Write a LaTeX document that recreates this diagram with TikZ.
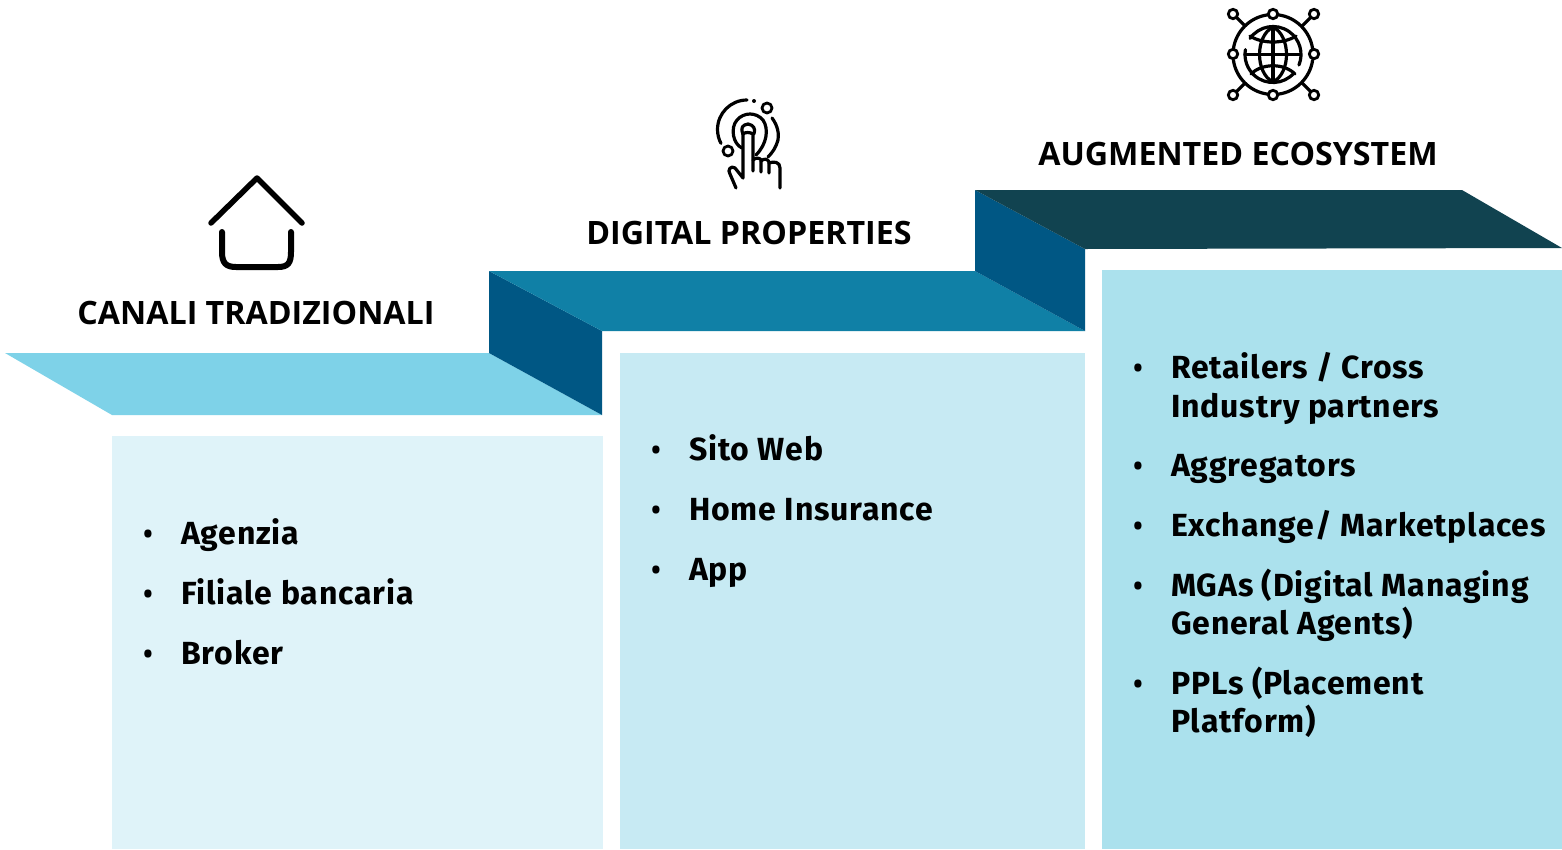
\documentclass[tikz,border=0pt]{standalone}
\usepackage{fontspec}
\setmainfont{Open Sans}
\newfontfamily\listfont[LetterSpace=2.6]{Fira Sans}
\begin{document}
\begin{tikzpicture}[x=1pt,y=-1pt,
  heading/.style={font=\fontsize{32.2}{36}\selectfont\bfseries,text=black,inner sep=0pt,anchor=center},
  item/.style={font=\listfont\fontsize{32}{38}\selectfont\bfseries,text=black,inner sep=0pt,anchor=base west,align=left},
  bul/.style={font=\fontsize{26}{38}\selectfont\bfseries,text=black,inner sep=0pt,anchor=base},
  ico/.style={line width=3.2pt,line cap=round,line join=round,black},
  ico2/.style={line width=2.8pt,line cap=round,line join=round,black}]
\useasboundingbox (0,0) rectangle (1562,849);
\definecolor{pa}{HTML}{DFF3F9}\definecolor{pb}{HTML}{C7EAF3}\definecolor{pc}{HTML}{ABE1ED}
\definecolor{ta}{HTML}{7ED2E8}\definecolor{tb}{HTML}{1080A6}\definecolor{tc}{HTML}{114350}
\definecolor{sd}{HTML}{005784}
\fill[white] (0,0) rectangle (1562,849);
\fill[pa] (112,436) rectangle (603,849);
\fill[pb] (620,353) rectangle (1085,849);
\fill[pc] (1102,270) rectangle (1562,849);
% steps
\fill[ta] (5,353) -- (489,353) -- (602,415) -- (112,415) -- cycle;
\fill[sd] (489,271) -- (602,331) -- (602,415) -- (489,353) -- cycle;
\fill[tb] (489,271) -- (975,271) -- (1085,331) -- (602,331) -- cycle;
\fill[sd] (975,190) -- (1085,249) -- (1085,331) -- (975,271) -- cycle;
\fill[tc] (975,190) -- (1462,190) -- (1562,248) -- (1085,249) -- cycle;
% headings
\node[heading] (h1) at (256,312.5) {CANALI TRADIZIONALI};
\node[heading] (h2) at (749,232.5) {DIGITAL PROPERTIES};
\node[heading] (h3) at (1238,153.5) {AUGMENTED ECOSYSTEM};
% lists 1
\node[bul] (b1) at (148,543) {•}; \node[item] (t1) at (181,544) {Agenzia};
\node[bul] (b2) at (148,603) {•}; \node[item] (t2) at (181,604) {Filiale bancaria};
\node[bul] (b3) at (148,663) {•}; \node[item] (t3) at (181,664) {Broker};
% lists 2
\node[bul] (b4) at (656,459) {•}; \node[item] (t4) at (689,460) {Sito Web};
\node[bul] (b5) at (656,519) {•}; \node[item] (t5) at (689,520) {Home Insurance};
\node[bul] (b6) at (656,579) {•}; \node[item] (t6) at (689,580) {App};
% lists 3
\node[bul] (b7) at (1138,377) {•}; \node[item] (t7) at (1171,378) {Retailers / Cross};
\node[item] (t7b) at (1171,417) {Industry partners};
\node[bul] (b8) at (1138,475) {•}; \node[item] (t8) at (1171,476) {Aggregators};
\node[bul] (b9) at (1138,535) {•}; \node[item] (t9) at (1171,536) {Exchange/ Marketplaces};
\node[bul] (b10) at (1138,595) {•}; \node[item] (t10) at (1171,596) {MGAs (Digital Managing};
\node[item] (t10b) at (1171,634) {General Agents)};
\node[bul] (b11) at (1138,693) {•}; \node[item] (t11) at (1171,694) {PPLs (Placement};
\node[item] (t11b) at (1171,732) {Platform)};
% house icon
\draw[line width=5.5pt,line cap=round,line join=round] (211,223) -- (257,178) -- (302,223);
\draw[line width=6pt,line cap=round,line join=round] (222,232) -- (222,252) .. controls (222,263) and (226,267) .. (236,267) -- (278,267) .. controls (288,267) and (291,263) .. (291,252) -- (291,232);
% finger icon
\draw[ico] (747,100) arc (-90:-180:29.5) arc (180:152:29.5);
\draw[ico] (772,118) .. controls (778,126) and (779,134) .. (778,140) .. controls (776,147) and (773,152) .. (768,157);
\fill (754,101) circle (2);
\draw[ico2] (767,108) circle (5);
\draw[ico2] (728,151) circle (5);
\draw[ico] (742,148) .. controls (733,144) and (730,128) .. (737,120) .. controls (744,112) and (756,112) .. (763,120) .. controls (769,129) and (767,144) .. (756,155);
\draw[ico] (743,134) .. controls (740,127) and (743,125) .. (748,124) .. controls (753,125) and (756,128) .. (754,134);
\draw[ico] (743,134) -- (743,178) -- (735,168) .. controls (731,165) and (727,170) .. (730,174) -- (736,188);
\draw[ico] (743,134) .. controls (745,132) and (750,132) .. (753,134) -- (753,171);
\draw[ico] (753,160) .. controls (756,157) and (760,158) .. (761,160) -- (761,172);
\draw[ico] (761,161) .. controls (764,158) and (768,159) .. (769,162) -- (769,173);
\draw[ico] (769,163) .. controls (774,161) and (780,162) .. (780,168) -- (780,188);
% globe icon
\foreach \a/\b in {-82/-8,8/82,98/172,188/262}{\draw[ico] (1273,54.5) ++(\a:40) arc (\a:\b:40);}
\foreach \x/\y in {1233/14,1273/14,1314/14,1233/54,1314/54,1233/95,1273/95,1314/95}{\draw[line width=2.8pt] (\x,\y) circle (4.7);}
\draw[ico] (1237,18) -- (1245,26);
\draw[ico] (1310,18) -- (1302,26);
\draw[ico] (1237,91) -- (1245,83);
\draw[ico] (1310,91) -- (1302,83);
\draw[ico] (1273,54.5) ++(-145:28) arc (-145:22:28);
\draw[ico] (1273,54.5) ++(42:28) arc (42:190:28);
\draw[ico] (1273,27) -- (1273,82);
\draw[ico] (1245,54.5) -- (1300,54.5);
\draw[ico] (1273,27) .. controls (1255,36) and (1255,73) .. (1273,82);
\draw[ico] (1273,27) .. controls (1291,36) and (1291,73) .. (1273,82);
\draw[ico] (1250,36) .. controls (1262,44) and (1284,44) .. (1296,36);
\draw[ico] (1251,74) .. controls (1262,63) and (1284,63) .. (1295,74);
\end{tikzpicture}
\end{document}
